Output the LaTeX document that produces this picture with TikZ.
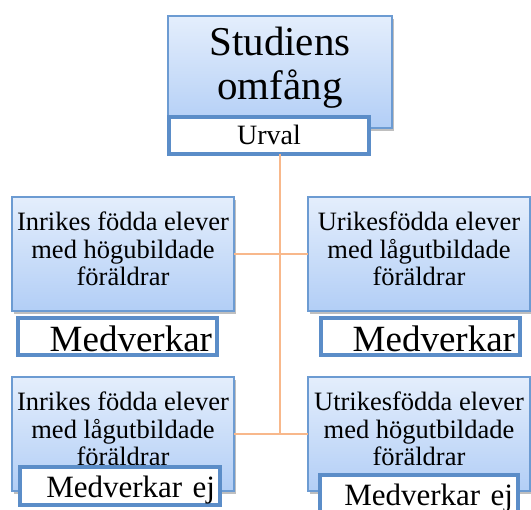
\documentclass[tikz,border=0pt]{standalone}
\usepackage{fontspec}
\setmainfont{Liberation Serif}
\usetikzlibrary{shadows}
\definecolor{boxborder}{HTML}{6C9BD2}
\definecolor{boxtop}{HTML}{E4EEFC}
\definecolor{boxbot}{HTML}{B2CEF6}
\definecolor{tagborder}{HTML}{5B8DC8}
\definecolor{linkcol}{HTML}{F8B88B}
\begin{document}
\begin{tikzpicture}[x=1pt,y=-1pt,
  bigbox/.style={draw=boxborder, line width=1.2pt, top color=boxtop, bottom color=boxbot,
    anchor=north west, inner sep=0pt, outer sep=0pt, align=center,
    minimum width=222pt, minimum height=114pt, text depth=10pt,
    font=\fontsize{26.5}{27.5}\selectfont,
    drop shadow={shadow xshift=2pt, shadow yshift=-3pt, fill=black, opacity=0.25}},
  tag/.style={draw=tagborder, line width=4pt, fill=white, anchor=north west,
    outer sep=0pt, inner ysep=0pt, text depth=0pt},
  link/.style={draw=linkcol, line width=1.6pt}]
\useasboundingbox (0,0) rectangle (531,510);
\clip (0,0) rectangle (531,510);
\coordinate (j1) at (280,254);
\coordinate (j2) at (280,434);
\node[bigbox, minimum width=224pt, minimum height=112pt, text depth=17pt, font=\fontsize{41}{44}\selectfont] (top) at (168,16) {Studiens\\omfång};
\node[tag, minimum width=200pt, minimum height=37pt, text height=19pt, font=\fontsize{28}{30}\selectfont] (urval) at (169,117) {Urval};
\draw[link] (urval.south -| j1) -- (j2);
\node[bigbox] (a) at (12,197) {Inrikes födda elever\\med högubildade\\föräldrar};
\node[bigbox] (b) at (308,197) {Urikesfödda elever\\med lågutbildade\\föräldrar};
\node[bigbox] (c) at (12,377) {Inrikes födda elever\\med lågutbildade\\föräldrar};
\node[bigbox] (d) at (308,377) {Utrikesfödda elever\\med högutbildade\\föräldrar};
\draw[link] (a.east |- j1) -- (b.west |- j1);
\draw[link] (c.east |- j2) -- (d.west |- j2);
\node[tag, minimum height=37pt, text width=189pt, inner xsep=5pt, align=right, text height=31pt, font=\fontsize{37}{40}\selectfont] (am) at (18,318) {Medverkar};
\node[tag, minimum height=37pt, text width=189pt, inner xsep=5pt, align=right, text height=31pt, font=\fontsize{37}{40}\selectfont] (bm) at (321,318) {Medverkar};
\node[tag, minimum height=38pt, text width=190pt, inner xsep=5pt, align=right, text height=24pt, font=\fontsize{31}{34}\selectfont] (cm) at (20,467) {Medverkar ej};
\node[tag, minimum height=38pt, text width=188pt, inner xsep=5pt, align=right, text height=24pt, font=\fontsize{31}{34}\selectfont] (dm) at (320,475) {Medverkar ej};
\end{tikzpicture}
\end{document}
